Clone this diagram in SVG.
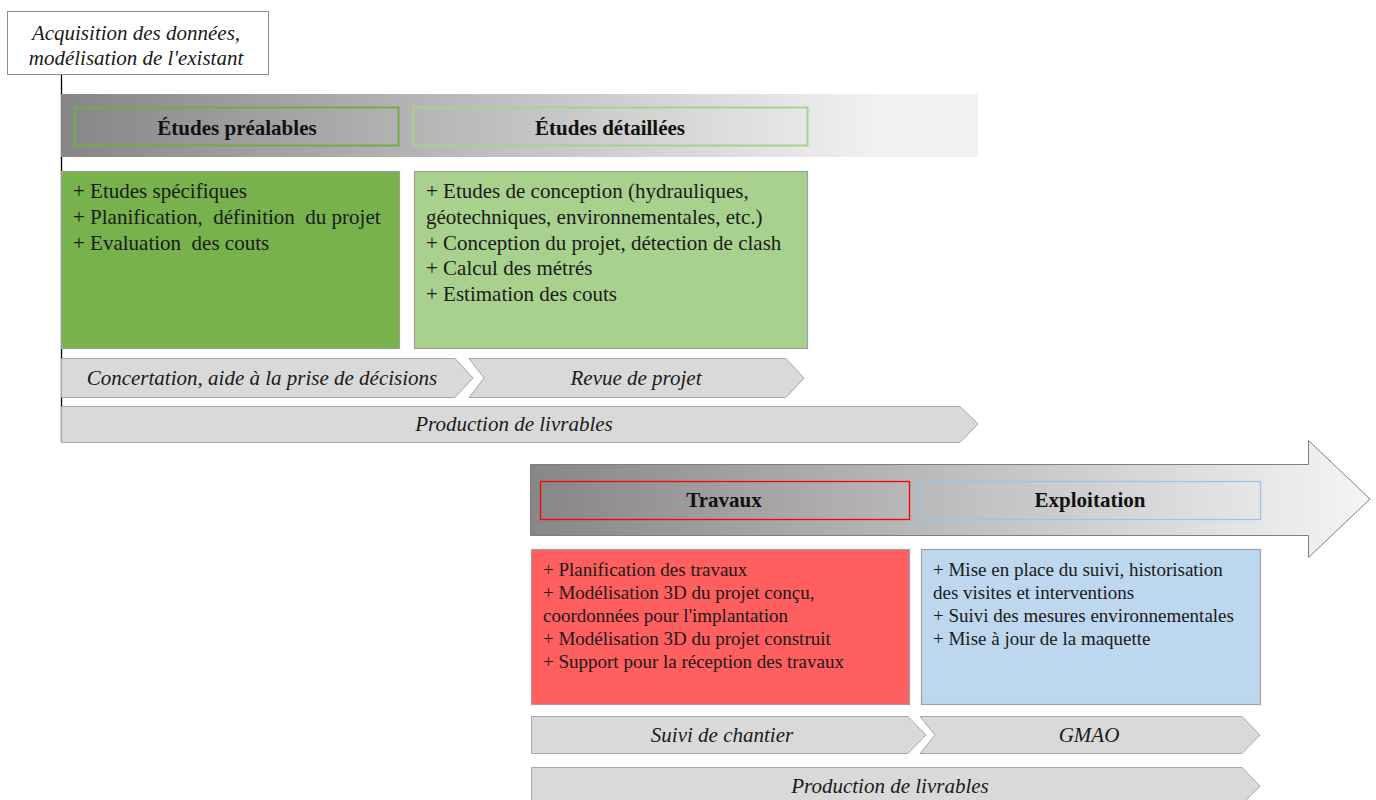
<svg xmlns="http://www.w3.org/2000/svg" width="1376" height="800" viewBox="0 0 1376 800">
<defs>
<linearGradient id="band" x1="0" y1="0" x2="1" y2="0">
<stop offset="0" stop-color="#868686"/>
<stop offset="0.9" stop-color="#f2f2f2"/>
<stop offset="1" stop-color="#f2f2f2"/>
</linearGradient>
<linearGradient id="band2" gradientUnits="userSpaceOnUse" x1="530" y1="0" x2="1370" y2="0">
<stop offset="0" stop-color="#868686"/>
<stop offset="1" stop-color="#f5f5f5"/>
</linearGradient>
<style>
.it{font-family:"Liberation Serif",serif;font-style:italic;font-size:21px;fill:#1a1a1a;text-anchor:middle}
.hd{font-family:"Liberation Serif",serif;font-weight:bold;font-size:21px;fill:#111;text-anchor:middle}
.tx{font-family:"Liberation Serif",serif;font-size:21px;fill:#1a1a1a}
.tx2{font-family:"Liberation Serif",serif;font-size:19px;fill:#1a1a1a}
.chev{fill:#d9d9d9;stroke:#a6a6a6;stroke-width:1}
.box{stroke:#a0a0a0;stroke-width:1.2}
</style>
</defs>

<g id="connectors">
<line x1="61.5" y1="74" x2="61.5" y2="442" stroke="#000" stroke-width="1.3"/>
</g>

<g id="acquisition">
<rect x="7.5" y="11.5" width="261" height="63" fill="#fff" stroke="#8c8c8c" stroke-width="1"/>
<text class="it" x="136" y="40">Acquisition des données,</text>
<text class="it" x="136" y="65">modélisation de l'existant</text>
</g>

<g id="band-etudes">
<rect x="61" y="94" width="917" height="63" fill="url(#band)"/>
</g>

<g id="etudes-prealables">
<rect x="74.5" y="107.5" width="324" height="38" fill="none" stroke="#70ad47" stroke-width="2"/>
<text class="hd" x="237" y="135">Études préalables</text>
</g>

<g id="etudes-detaillees">
<rect x="413.5" y="107.5" width="394" height="38" fill="none" stroke="#a9d18e" stroke-width="2"/>
<text class="hd" x="610" y="135">Études détaillées</text>
</g>

<g id="box-prealables">
<rect class="box" x="61.5" y="171.5" width="338" height="177" fill="#77b24c"/>
<text class="tx" x="73" y="197.5">+ Etudes spécifiques</text>
<text class="tx" x="73" y="223.5" xml:space="preserve">+ Planification,  définition  du projet</text>
<text class="tx" x="73" y="249.5" xml:space="preserve">+ Evaluation  des couts</text>
</g>

<g id="box-detaillees">
<rect class="box" x="414.5" y="171.5" width="393" height="177" fill="#a9d18e"/>
<text class="tx" x="426" y="197.5">+ Etudes de conception (hydrauliques,</text>
<text class="tx" x="426" y="223.5">géotechniques, environnementales, etc.)</text>
<text class="tx" x="426" y="249.5">+ Conception du projet, détection de clash</text>
<text class="tx" x="426" y="274.5">+ Calcul des métrés</text>
<text class="tx" x="426" y="300.5">+ Estimation des couts</text>
</g>

<g id="concertation">
<polygon class="chev" points="61.5,358.5 455,358.5 473,378 455,397.5 61.5,397.5"/>
<text class="it" x="262" y="385">Concertation, aide à la prise de décisions</text>
</g>

<g id="revue">
<polygon class="chev" points="469,358.5 786,358.5 804,378 786,397.5 469,397.5 484,378"/>
<text class="it" x="636" y="385">Revue de projet</text>
</g>

<g id="production-1">
<polygon class="chev" points="61.5,406.5 960,406.5 978,424 960,442.5 61.5,442.5"/>
<text class="it" x="514" y="431">Production de livrables</text>
</g>

<g id="band-travaux">
<polygon points="530.5,464.5 1308.5,464.5 1308.5,440.5 1370,499 1308.5,557.5 1308.5,535.5 530.5,535.5" fill="url(#band2)" stroke="#7f7f7f" stroke-width="1"/>
</g>

<g id="travaux">
<rect x="540.5" y="481.5" width="369" height="38" fill="none" stroke="#ff0000" stroke-width="1.3"/>
<text class="hd" x="724" y="507">Travaux</text>
</g>

<g id="exploitation">
<rect x="920.5" y="481.5" width="340" height="38" fill="none" stroke="#9dc3e6" stroke-width="1.3"/>
<text class="hd" x="1090" y="507">Exploitation</text>
</g>

<g id="box-travaux">
<rect class="box" x="531.5" y="549.5" width="378" height="155" fill="#ff5f5f"/>
<text class="tx2" x="543" y="576">+ Planification des travaux</text>
<text class="tx2" x="543" y="599">+ Modélisation 3D du projet conçu,</text>
<text class="tx2" x="543" y="622">coordonnées pour l'implantation</text>
<text class="tx2" x="543" y="645">+ Modélisation 3D du projet construit</text>
<text class="tx2" x="543" y="668">+ Support pour la réception des travaux</text>
</g>

<g id="box-exploitation">
<rect class="box" x="921.5" y="549.5" width="339" height="155" fill="#bdd7ee"/>
<text class="tx2" x="933" y="576">+ Mise en place du suivi, historisation</text>
<text class="tx2" x="933" y="599">des visites et interventions</text>
<text class="tx2" x="933" y="622">+ Suivi des mesures environnementales</text>
<text class="tx2" x="933" y="645">+ Mise à jour de la maquette</text>
</g>

<g id="suivi-chantier">
<polygon class="chev" points="531.5,716.5 908,716.5 926,735 908,753.5 531.5,753.5"/>
<text class="it" x="722" y="742">Suivi de chantier</text>
</g>

<g id="gmao">
<polygon class="chev" points="920,716.5 1242,716.5 1260,735 1242,753.5 920,753.5 935,735"/>
<text class="it" x="1089" y="742">GMAO</text>
</g>

<g id="production-2">
<polygon class="chev" points="531.5,767.5 1242,767.5 1260,786 1242,804.5 531.5,804.5"/>
<text class="it" x="890" y="793">Production de livrables</text>
</g>
</svg>
